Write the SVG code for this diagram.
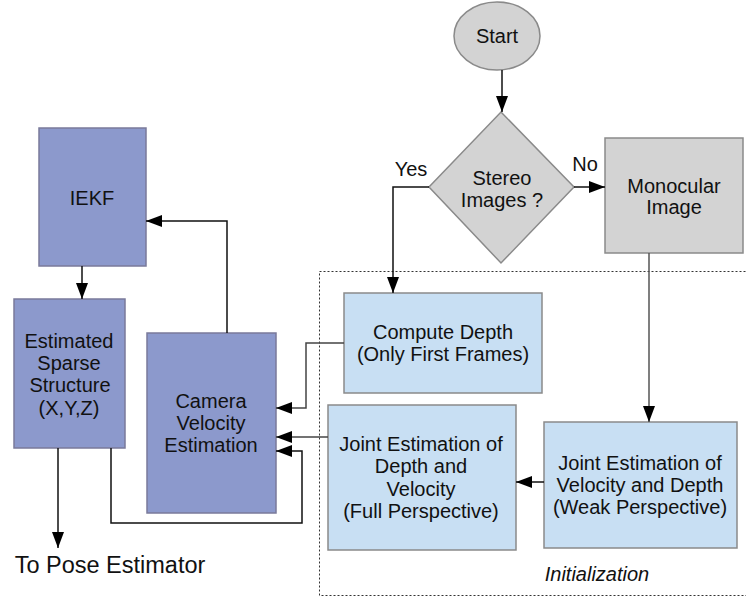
<svg xmlns="http://www.w3.org/2000/svg" width="746" height="601" viewBox="0 0 746 601">
<defs>
<marker id="ah" viewBox="0 0 10 10" refX="10" refY="5" markerWidth="16" markerHeight="12" markerUnits="userSpaceOnUse" orient="auto" preserveAspectRatio="none">
<path d="M0,0 L10,5 L0,10 z" fill="#000"/>
</marker>
<style>
text{font-family:"Liberation Sans",Arial,sans-serif;font-size:20px;fill:#111;text-anchor:middle}
.blue{fill:#8c99cc;stroke:#7a7a9a;stroke-width:1.5}
.lblue{fill:#c8dff3;stroke:#8a8a8a;stroke-width:1.5}
.gray{fill:#d3d3d3;stroke:#8a8a8a;stroke-width:1.5}
.c{fill:none;stroke:#111;stroke-width:1.5;marker-end:url(#ah)}
</style>
</defs>
<rect x="0" y="0" width="746" height="601" fill="#fff"/>
<g id="init-box">
<rect x="319.5" y="271.5" width="440" height="324" fill="none" stroke="#333" stroke-width="1" stroke-dasharray="2,2"/>
<text x="597" y="581" style="font-style:italic">Initialization</text>
</g>
<g id="start">
<ellipse cx="497" cy="36" rx="43" ry="34" class="gray"/>
<text x="497" y="43">Start</text>
</g>
<g id="stereo">
<polygon points="501,112 574,187 501,263 429,187" class="gray"/>
<text x="502" y="185">Stereo</text>
<text x="502" y="207">Images ?</text>
</g>
<g id="monocular">
<rect x="605" y="138" width="138" height="115" class="gray"/>
<text x="674" y="193">Monocular</text>
<text x="674" y="214">Image</text>
</g>
<g id="compute-depth">
<rect x="344" y="293" width="198" height="100" class="lblue"/>
<text x="443" y="339">Compute Depth</text>
<text x="443" y="361">(Only First Frames)</text>
</g>
<g id="joint-full">
<rect x="328" y="405" width="188" height="145" class="lblue"/>
<text x="421" y="451">Joint Estimation of</text>
<text x="421" y="473">Depth and</text>
<text x="421" y="496">Velocity</text>
<text x="421" y="518">(Full Perspective)</text>
</g>
<g id="joint-weak">
<rect x="544" y="422" width="193" height="126" class="lblue"/>
<text x="640" y="470">Joint Estimation of</text>
<text x="640" y="492">Velocity and Depth</text>
<text x="640" y="514">(Weak Perspective)</text>
</g>
<g id="iekf">
<rect x="39" y="128" width="107" height="138" class="blue"/>
<text x="92" y="205">IEKF</text>
</g>
<g id="structure">
<rect x="14" y="299" width="111" height="149" class="blue"/>
<text x="69" y="348">Estimated</text>
<text x="69" y="370">Sparse</text>
<text x="70" y="392">Structure</text>
<text x="69" y="415">(X,Y,Z)</text>
</g>
<g id="camera">
<rect x="147" y="333" width="129" height="180" class="blue"/>
<text x="211" y="408">Camera</text>
<text x="211" y="430">Velocity</text>
<text x="211" y="452">Estimation</text>
</g>
<g id="pose">
<text x="110" y="573" style="font-size:23.5px">To Pose Estimator</text>
</g>
<g id="connectors">
<path d="M502,70 V112" class="c"/>
<path d="M574,187 H605" class="c"/>
<path d="M429,187 H393 V293" class="c"/>
<path d="M649,253 V422" class="c" style="stroke:#555"/>
<path d="M544,482 H516" class="c"/>
<path d="M82,266 V299" class="c"/>
<path d="M227,333 V221 H146" class="c"/>
<path d="M344,343 H306 V408 H276" class="c" style="stroke:#444"/>
<path d="M328,437 H276" class="c" style="stroke:#444"/>
<path d="M111,448 V523 H302 V451 H276" class="c"/>
<path d="M58,448 V548" class="c"/>
<text x="411" y="176">Yes</text>
<text x="585" y="171">No</text>
</g>
</svg>
